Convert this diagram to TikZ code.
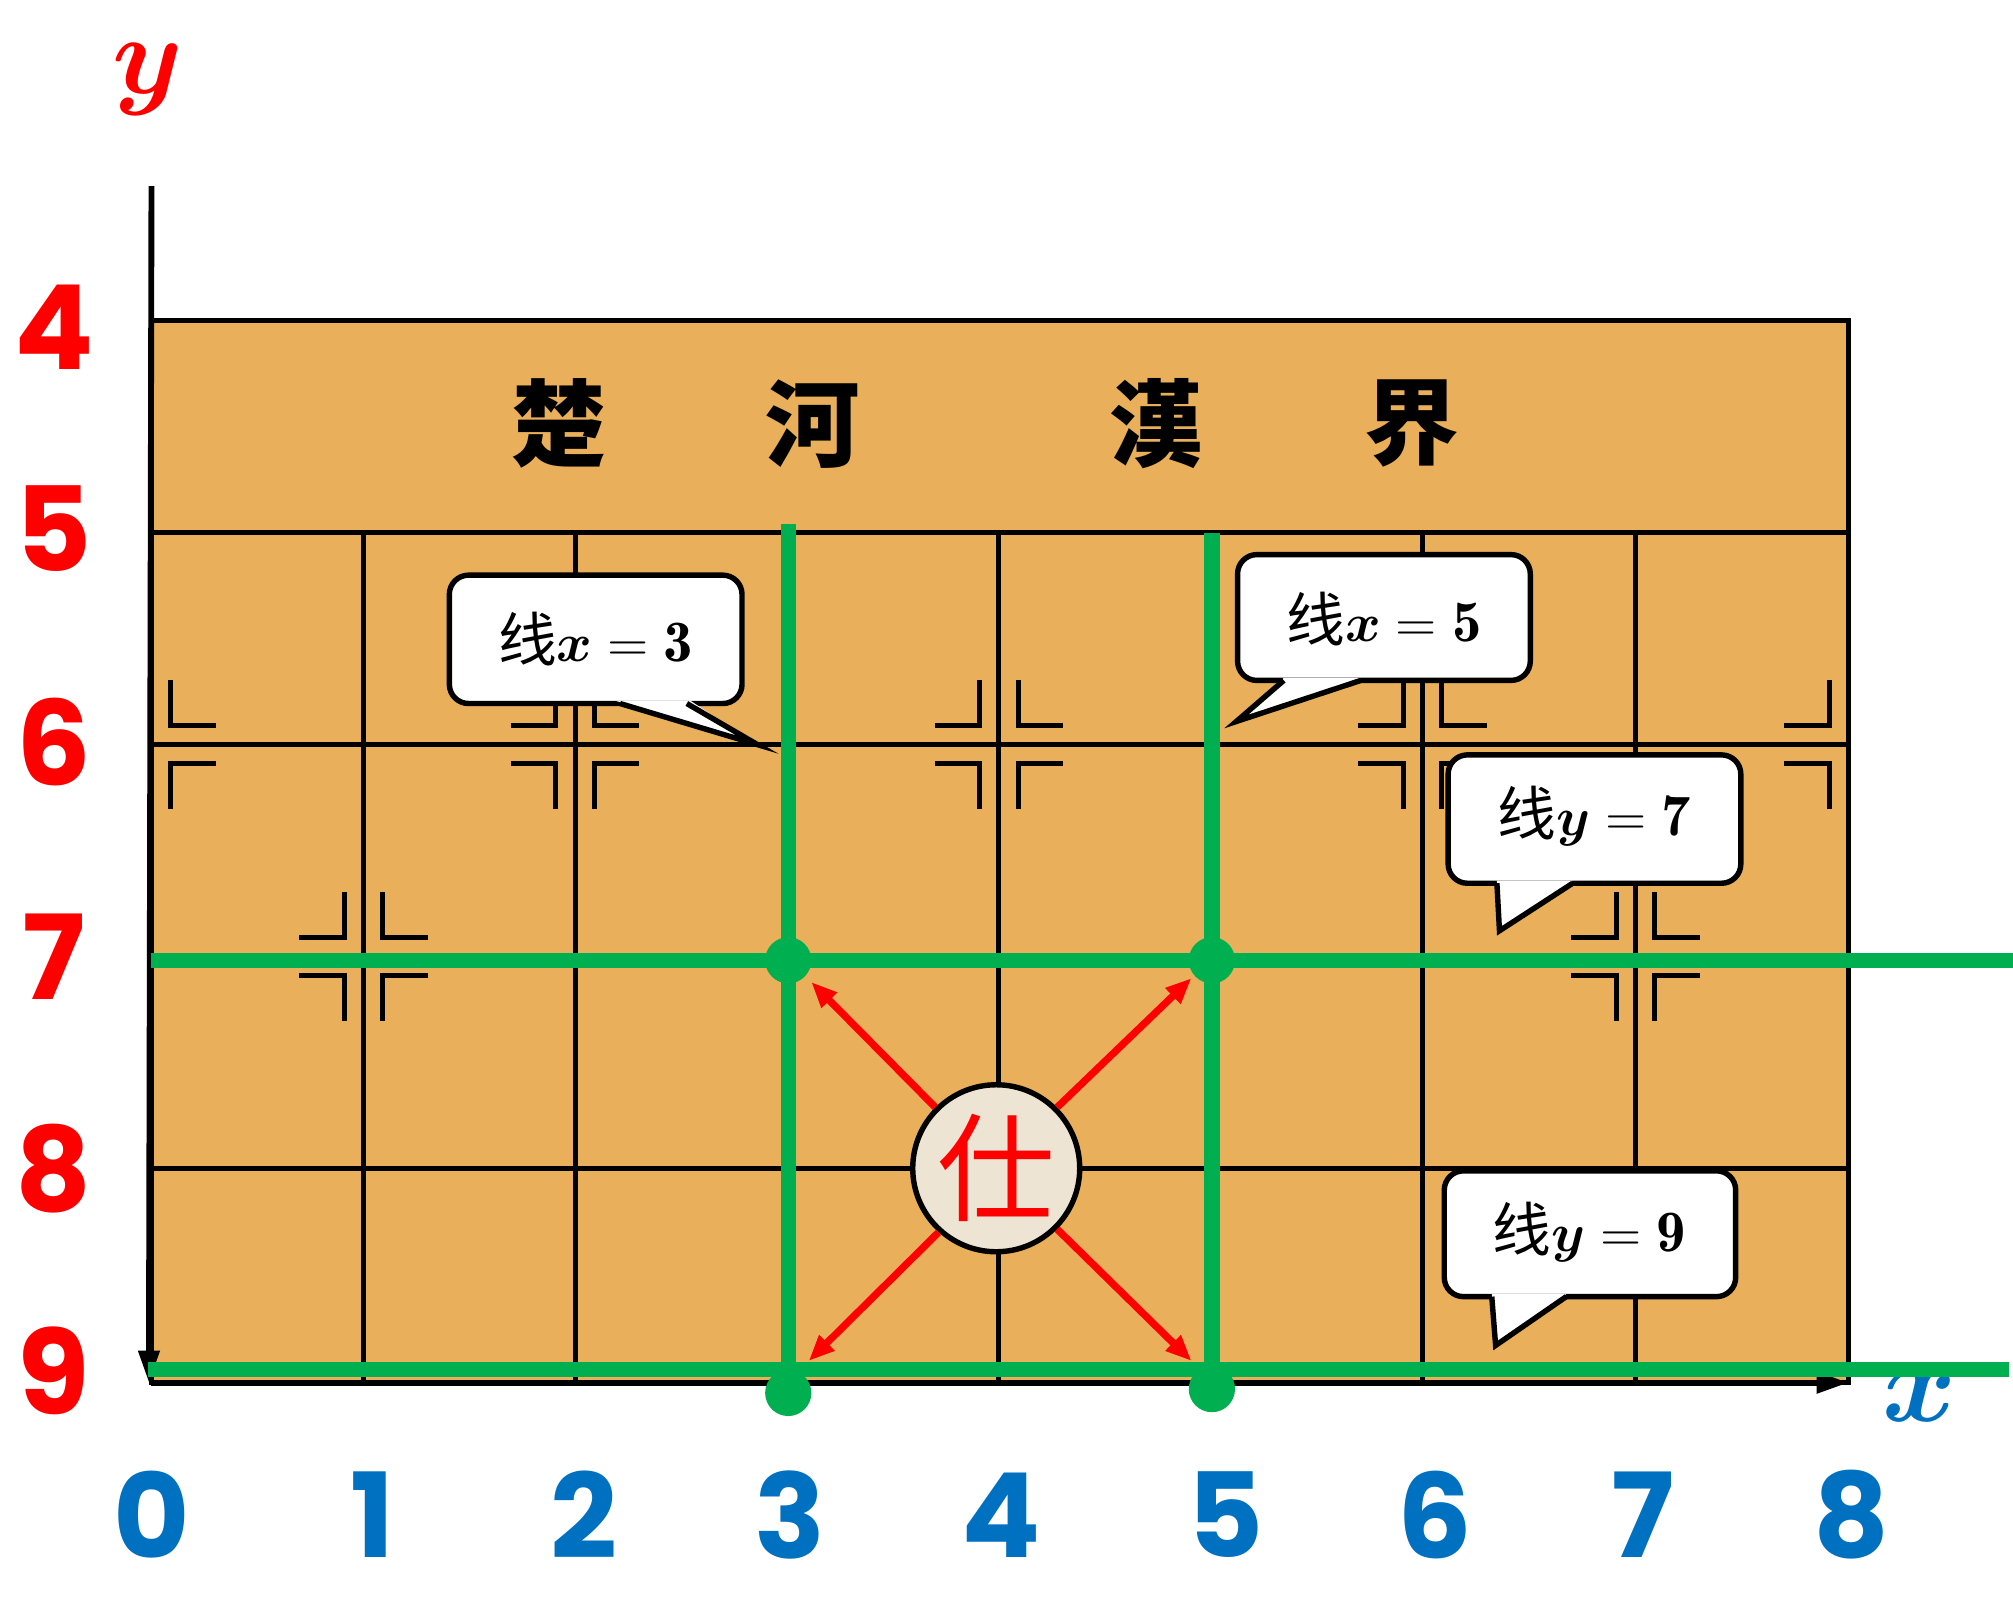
\documentclass[tikz,border=0pt]{standalone}
\usepackage{fontspec}
\usepackage{amsmath,bm}
\newfontfamily\cjk{Noto Sans CJK SC}
\newfontfamily\cjktc{Noto Sans CJK TC}
\newfontfamily\numf{Poppins}
\usetikzlibrary{arrows.meta}
\definecolor{board}{RGB}{233,175,90}
\definecolor{gr}{RGB}{0,176,80}
\definecolor{bl}{RGB}{0,112,192}
\definecolor{piece}{RGB}{238,228,212}
\tikzset{
 grid/.style={line width=1.1pt},
 gline/.style={gr,line width=3.4pt},
 gdot/.style={fill=gr,circle,inner sep=0pt,minimum size=0.36cm},
 ylab/.style={red,font=\numf\bfseries\fontsize{26}{26}\selectfont},
 xlab/.style={bl,font=\numf\bfseries\fontsize{26}{26}\selectfont},
 river/.style={font=\cjktc\bfseries\fontsize{21}{21}\selectfont},
 callout/.style={draw,fill=white,line width=1.2pt,rounded corners=0.15cm},
 ctext/.style={font=\fontsize{13}{13}\selectfont},
 mv/.style={red,line width=1.6pt,-{Triangle[length=0.2cm,width=0.16cm]}},
 mk/.style={line width=1.1pt}
}
\newcommand{\mkq}[4]{%
 \draw[mk] (#1+#3*15,#2+#4*50) -- (#1+#3*15,#2+#4*15) -- (#1+#3*50,#2+#4*15);}
\newcommand{\mkall}[2]{\mkq{#1}{#2}{1}{1}\mkq{#1}{#2}{-1}{1}\mkq{#1}{#2}{1}{-1}\mkq{#1}{#2}{-1}{-1}}
\begin{document}
\begin{tikzpicture}[x=0.01cm,y=-0.01cm]
\useasboundingbox (0,0) rectangle (1568,1248);
\fill[board] (118,250) rectangle (1440,1077);
\draw[grid] (118,250) rectangle (1440,1077);
\foreach \yy in {415,580,745,910} \draw[grid] (118,\yy) -- (1440,\yy);
\foreach \xx in {283,448,613,778,944,1108,1274} \draw[grid] (\xx,415) -- (\xx,1077);
\mkall{283}{745}\mkall{448}{580}\mkall{778}{580}\mkall{1108}{580}\mkall{1274}{745}
\mkq{118}{580}{1}{1}\mkq{118}{580}{1}{-1}
\mkq{1440}{580}{-1}{1}\mkq{1440}{580}{-1}{-1}
\draw[line width=1.3pt,-{Triangle[length=0.25cm,width=0.16cm]}] (118,145) -- (116,1077);
\draw[line width=1.3pt,-{Triangle[length=0.25cm,width=0.16cm]}] (118,1077) -- (1440,1077);
\node[red,font=\fontsize{30}{30}\selectfont] (ya) at (115,62) {$\bm{y}$};
\node[bl,font=\fontsize{30}{30}\selectfont] (xa) at (1495,1088) {$\bm{x}$};
\node[river] (c1) at (435,330) {楚};
\node[river] (c2) at (633,330) {河};
\node[river] (c3) at (900,330) {漢};
\node[river] (c4) at (1100,330) {界};
\foreach \t/\yy in {4/255,5/412,6/578,7/745,8/910,9/1068} \node[ylab] at (42,\yy) {\t};
\foreach \t/\xx in {0/118,1/290,2/455,3/615,4/780,5/955,6/1118,7/1280,8/1442} \node[xlab] at (\xx,1180) {\t};
\draw[gline] (614,408) -- (614,1085);
\draw[gline] (944,415) -- (944,1082);
\draw[gline] (118,748) -- (1568,748);
\draw[gline] (115,1067) -- (1565,1067);
\node[gdot] (p1) at (614,748) {};
\node[gdot] (p2) at (944,748) {};
\node[gdot] (b1) at (614,1085) {};
\node[gdot] (b2) at (944,1082) {};
\coordinate (t1) at (632,765);
\coordinate (t2) at (928,762);
\coordinate (t3) at (630,1060);
\coordinate (t4) at (928,1060);
\node[draw,circle,fill=piece,line width=1.2pt,minimum size=1.3cm,inner sep=0pt,text=red,font=\cjk\fontsize{26}{26}\selectfont] (pc) at (776,910) {仕};
\draw[mv] (pc.135) -- (t1);
\draw[mv] (pc.45) -- (t2);
\draw[mv] (pc.-132) -- (t3);
\draw[mv] (pc.-45) -- (t4);
\draw[callout] (350,448) rectangle (578,548);
\fill[white] (480,546) -- (590,580) -- (538,546) -- cycle;
\draw[line width=1.2pt] (483,548) -- (590,580) -- (535,548);
\node[ctext] (l1) at (464,498) {{\cjk 线}$\bm{x}=\mathbf{3}$};
\draw[callout] (964,432) rectangle (1192,530);
\fill[white] (1000,528) -- (963,562) -- (1060,528) -- cycle;
\draw[line width=1.2pt] (1000,530) -- (963,562) -- (1060,530);
\node[ctext] (l2) at (1078,482) {{\cjk 线}$\bm{x}=\mathbf{5}$};
\draw[callout] (1128,588) rectangle (1356,688);
\fill[white] (1166,686) -- (1168,725) -- (1225,686) -- cycle;
\draw[line width=1.2pt] (1166,688) -- (1168,725) -- (1225,688);
\node[ctext] (l3) at (1242,636) {{\cjk 线}$\bm{y}=\mathbf{7}$};
\draw[callout] (1125,912) rectangle (1352,1010);
\fill[white] (1162,1008) -- (1165,1048) -- (1220,1008) -- cycle;
\draw[line width=1.2pt] (1162,1010) -- (1165,1048) -- (1220,1010);
\node[ctext] (l4) at (1238,960) {{\cjk 线}$\bm{y}=\mathbf{9}$};
\end{tikzpicture}
\end{document}
